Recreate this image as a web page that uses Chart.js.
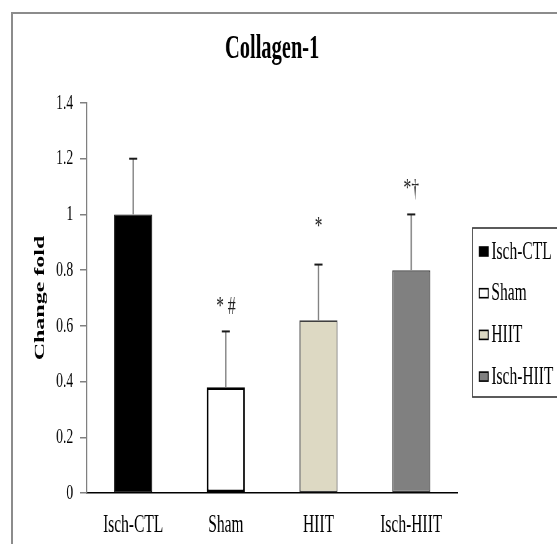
<!DOCTYPE html>
<html>
<head>
<meta charset="utf-8">
<title>Collagen-1</title>
<script src="https://cdn.jsdelivr.net/npm/chart.js@4"></script>
<style>
  html, body { margin: 0; padding: 0; background: #fff; overflow: hidden; }
  /* grey frame of the original figure, only top and left edges are visible */
  #frame { position: absolute; left: 11px; top: 12px; width: 620px; height: 620px;
           border-left: 2px solid #8c8c8c; border-top: 2px solid #8c8c8c; }
  /* the source picture is squeezed horizontally, so the chart is drawn wide and narrowed */
  #wrap { position: absolute; left: 0; top: 0; width: 899px; height: 544px;
          transform: scaleX(0.62); transform-origin: 0 0; }
</style>
</head>
<body>
<div id="frame"></div>
<div id="wrap"><canvas id="collagen-chart"></canvas></div>
<script>
  'use strict';

  // Data
  const categories = ['Isch-CTL', 'Sham', 'HIIT', 'Isch-HIIT'];
  const means = [1.0, 0.38, 0.62, 0.80];
  const errors = [0.20, 0.20, 0.20, 0.20];
  const marks = ['', '* #', '*', '*\u2020'];
  const markLevels = [null, 0.665, 0.955, 1.09];
  const yMin = 0;
  const yMax = 1.4;
  const yStep = 0.2;

  const fillColors = ['#000000', '#ffffff', '#ddd9c3', '#808080'];
  const edgeColors = ['#000000', '#000000', '#404040', '#404040'];
  const edgeWidths = [1, 2.8, 1.6, 1.6];

  const serif = "'Liberation Serif', 'Times New Roman', serif";

  // error bars (upper only) and significance marks
  const errorBarPlugin = {
    id: 'errorBars',
    afterDatasetsDraw(chart) {
      const ctx = chart.ctx;
      const y = chart.scales.y;
      const meta = chart.getDatasetMeta(0);
      ctx.save();
      meta.data.forEach((bar, i) => {
        const top = y.getPixelForValue(means[i] + errors[i]);
        ctx.strokeStyle = '#7f7f7f';
        ctx.lineWidth = 2.2;
        ctx.beginPath();
        ctx.moveTo(bar.x, bar.y);
        ctx.lineTo(bar.x, top);
        ctx.stroke();
        ctx.strokeStyle = '#1a1a1a';
        ctx.lineWidth = 2;
        ctx.beginPath();
        ctx.moveTo(bar.x - 6.5, top);
        ctx.lineTo(bar.x + 6.5, top);
        ctx.stroke();

        if (marks[i] && markLevels[i] !== null) {
          ctx.fillStyle = '#222';
          ctx.font = '25px ' + serif;
          ctx.textAlign = 'center';
          ctx.textBaseline = 'middle';
          ctx.fillText(marks[i], bar.x, y.getPixelForValue(markLevels[i]));
        }
      });
      ctx.restore();
    }
  };

  // boxed legend to the right of the plot, clipped by the frame edge like the original
  const boxLegendPlugin = {
    id: 'boxLegend',
    afterDraw(chart) {
      const ctx = chart.ctx;
      const area = chart.chartArea;
      const left = area.right + 24;
      const top = area.top + 125;
      const height = 169;
      ctx.save();
      ctx.strokeStyle = '#333';
      ctx.lineWidth = 1.6;
      ctx.strokeRect(left, top, chart.width - left + 20, height);
      ctx.font = '25px ' + serif;
      ctx.textAlign = 'left';
      ctx.textBaseline = 'middle';
      categories.forEach((name, i) => {
        const rowY = top + 24 + i * 41.7;
        ctx.fillStyle = fillColors[i];
        ctx.fillRect(left + 11, rowY - 5, 14.5, 9);
        ctx.strokeStyle = '#000';
        ctx.lineWidth = 1.6;
        ctx.strokeRect(left + 11, rowY - 5, 14.5, 9);
        ctx.fillStyle = '#000';
        ctx.fillText(name, left + 30.5, rowY);
      });
      ctx.restore();
    }
  };

  const canvas = document.getElementById('collagen-chart');

  new Chart(canvas.getContext('2d'), {
    type: 'bar',
    data: {
      labels: categories,
      datasets: [{
        label: 'Collagen-1',
        data: means,
        backgroundColor: fillColors,
        borderColor: edgeColors,
        borderWidth: edgeWidths,
        borderSkipped: false,
        barPercentage: 0.41,
        categoryPercentage: 1
      }]
    },
    options: {
      responsive: true,
      maintainAspectRatio: false,
      animation: false,
      events: [],
      layout: {
        padding: { top: 14, right: 161, bottom: 0, left: 0 }
      },
      plugins: {
        legend: { display: false },
        tooltip: { enabled: false },
        title: {
          display: true,
          text: 'Collagen-1',
          fullSize: false,
          color: '#000',
          font: { family: serif, size: 33, weight: 'bold' },
          padding: { top: 16, bottom: 33.4 }
        }
      },
      scales: {
        x: {
          grid: { display: false, drawTicks: false },
          border: { display: true, color: '#000', width: 1.5 },
          ticks: {
            color: '#000',
            font: { family: serif, size: 25 },
            padding: 17
          },
          afterFit: function (scale) { scale.height = 51; }
        },
        y: {
          min: yMin,
          max: yMax,
          grid: {
            drawOnChartArea: false,
            drawTicks: true,
            tickLength: 11,
            color: '#808080',
            lineWidth: 1.5
          },
          border: { display: true, color: '#808080', width: 1.6 },
          ticks: {
            stepSize: yStep,
            color: '#000',
            font: { family: serif, size: 22 },
            padding: 11,
            callback: function (value) { return String(+value.toFixed(1)); }
          },
          title: {
            display: true,
            text: 'Change fold',
            color: '#000',
            font: { family: serif, size: 24, weight: 'bold' },
            padding: { top: 50, bottom: 0 }
          },
          afterFit: function (scale) { scale.width = 140; }
        }
      }
    },
    plugins: [errorBarPlugin, boxLegendPlugin]
  });
</script>
</body>
</html>
